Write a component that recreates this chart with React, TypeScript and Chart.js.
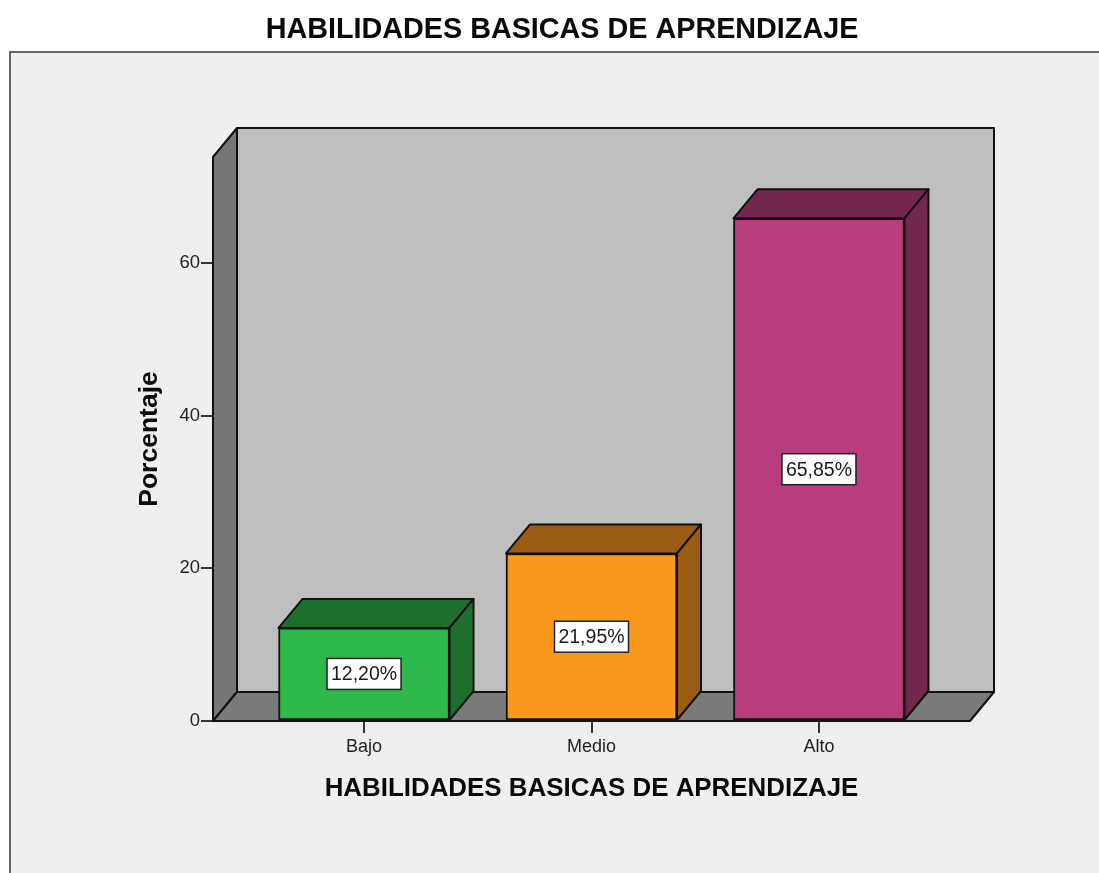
import React, { useEffect, useRef } from "react";
import { Chart, registerables } from "chart.js";

Chart.register(...registerables);

const categories = ["Bajo", "Medio", "Alto"];
const percentages = [12.2, 21.95, 65.85];
const percentLabels = ["12,20%", "21,95%", "65,85%"];
const yTicks = [0, 20, 40, 60];
const frontColors = ["#2fb94c", "#fa981e", "#b93d7c"];
const darkColors = ["#1e6f2e", "#9a5c12", "#73274e"];
const chartTitle = "HABILIDADES BASICAS DE APRENDIZAJE";
const yTitle = "Porcentaje";
const FONT = "'Liberation Sans', Arial, sans-serif";
const DEPTH_X = 24;
const DEPTH_Y = 29;
const EDGE = "#111111";

function poly(ctx: CanvasRenderingContext2D, pts: number[][], fill: string) {
  ctx.beginPath();
  pts.forEach(([x, y], i) => (i ? ctx.lineTo(x, y) : ctx.moveTo(x, y)));
  ctx.closePath();
  ctx.fillStyle = fill;
  ctx.fill();
  ctx.lineWidth = 2;
  ctx.lineJoin = "round";
  ctx.strokeStyle = EDGE;
  ctx.stroke();
}

const scene = {
  id: "scene",
  beforeDraw(chart: any) {
    const { ctx, width, height } = chart;
    ctx.save();
    ctx.fillStyle = "#ffffff";
    ctx.fillRect(0, 0, width, height);
    ctx.fillStyle = "#efefef";
    ctx.fillRect(10, 52, width - 10, height - 52);
    ctx.strokeStyle = "#666666";
    ctx.lineWidth = 2;
    ctx.beginPath();
    ctx.moveTo(10, height);
    ctx.lineTo(10, 52);
    ctx.lineTo(width, 52);
    ctx.stroke();
    ctx.fillStyle = "#0a0a0a";
    ctx.font = `bold 28.75px ${FONT}`;
    ctx.textAlign = "center";
    ctx.textBaseline = "middle";
    ctx.fillText(chartTitle, 562, 30);
    ctx.restore();
  },
  beforeDatasetsDraw(chart: any) {
    const { ctx, chartArea: a } = chart;
    const { left: l, right: r, top: t, bottom: b } = a;
    ctx.save();
    poly(ctx, [[l + DEPTH_X, t - DEPTH_Y], [r + DEPTH_X, t - DEPTH_Y], [r + DEPTH_X, b - DEPTH_Y], [l + DEPTH_X, b - DEPTH_Y]], "#bfbfbf");
    poly(ctx, [[l, t], [l + DEPTH_X, t - DEPTH_Y], [l + DEPTH_X, b - DEPTH_Y], [l, b]], "#767676");
    poly(ctx, [[l, b], [l + DEPTH_X, b - DEPTH_Y], [r + DEPTH_X, b - DEPTH_Y], [r, b]], "#7a7a7a");
    const bars = chart.getDatasetMeta(0).data;
    bars.forEach((bar: any, i: number) => {
      const x0 = bar.x - bar.width / 2;
      const x1 = bar.x + bar.width / 2;
      poly(ctx, [[x0, bar.y], [x0 + DEPTH_X, bar.y - DEPTH_Y], [x1 + DEPTH_X, bar.y - DEPTH_Y], [x1, bar.y]], darkColors[i]);
      poly(ctx, [[x1, bar.y], [x1 + DEPTH_X, bar.y - DEPTH_Y], [x1 + DEPTH_X, bar.base - DEPTH_Y], [x1, bar.base]], darkColors[i]);
    });
    ctx.restore();
  },
  afterDatasetsDraw(chart: any) {
    const { ctx } = chart;
    ctx.save();
    chart.getDatasetMeta(0).data.forEach((bar: any, i: number) => {
      const cy = (bar.y + bar.base) / 2;
      const w = 74;
      const h = 31;
      ctx.fillStyle = "#ffffff";
      ctx.fillRect(bar.x - w / 2, cy - h / 2, w, h);
      ctx.strokeStyle = "#222222";
      ctx.lineWidth = 1.5;
      ctx.strokeRect(bar.x - w / 2, cy - h / 2, w, h);
      ctx.fillStyle = "#1a1a1a";
      ctx.font = `19.5px ${FONT}`;
      ctx.textAlign = "center";
      ctx.textBaseline = "middle";
      ctx.fillText(percentLabels[i], bar.x, cy + 1);
    });
    ctx.restore();
  },
};

export default function App() {
  const ref = useRef<HTMLCanvasElement | null>(null);
  useEffect(() => {
    const chart = new Chart(ref.current as HTMLCanvasElement, {
      type: "bar",
      plugins: [scene],
      data: {
        datasets: [
          {
            data: categories.map((_, i) => ({ x: i, y: percentages[i] })),
            backgroundColor: frontColors,
            borderColor: EDGE,
            borderWidth: 2,
            borderSkipped: false,
            barThickness: 171,
          },
        ],
      },
      options: {
        responsive: false,
        animation: false,
        layout: { padding: { left: 0, right: 129, top: 157, bottom: 0 } },
        plugins: { legend: { display: false }, tooltip: { enabled: false }, title: { display: false } },
        scales: {
          x: {
            type: "linear",
            offset: false,
            min: -0.664,
            max: 2.664,
            afterFit: (s: any) => { s.height = 152; },
            afterBuildTicks: (s: any) => { s.ticks = categories.map((_, i) => ({ value: i })); },
            ticks: {
              color: "#222222",
              font: { family: FONT, size: 18 },
              padding: 3,
              maxRotation: 0,
              autoSkip: false,
              callback: (v: any) => categories[v],
            },
            grid: { offset: false, drawOnChartArea: false, drawTicks: true, tickLength: 12, tickColor: "#333333", lineWidth: 2 },
            border: { display: false },
            title: {
              display: true,
              text: chartTitle,
              color: "#0a0a0a",
              font: { family: FONT, size: 25.9, weight: "bold" },
              padding: { top: 0, bottom: 69 },
            },
          },
          y: {
            min: 0,
            max: 73.89,
            afterFit: (s: any) => { s.width = 213; },
            afterBuildTicks: (s: any) => { s.ticks = yTicks.map((value) => ({ value })); },
            ticks: { color: "#222222", font: { family: FONT, size: 18.5 }, padding: 1 },
            grid: { drawOnChartArea: false, drawTicks: true, tickLength: 12, tickColor: "#333333", lineWidth: 2 },
            border: { display: false },
            title: {
              display: true,
              text: yTitle,
              color: "#0a0a0a",
              font: { family: FONT, size: 26.5, weight: "bold" },
              padding: { top: 134, bottom: 0 },
            },
          },
        },
      },
    } as any);
    return () => chart.destroy();
  }, []);
  return (
    <canvas
      ref={ref}
      width={1099}
      height={873}
      style={{ position: "absolute", left: 0, top: 0, display: "block" }}
    />
  );
}
